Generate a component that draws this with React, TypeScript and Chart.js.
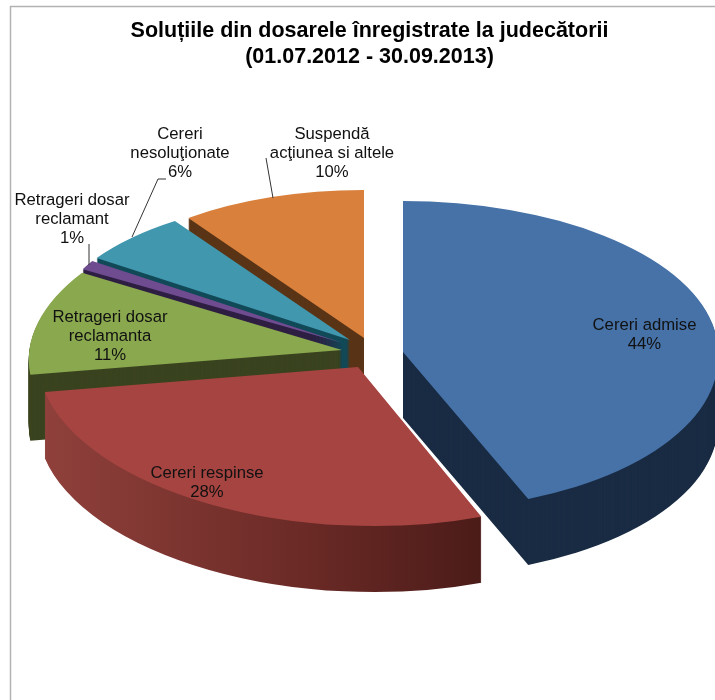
import React, { useEffect, useRef } from "react";
import { Chart, registerables } from "chart.js";

Chart.register(...registerables);

const categories = [
  "Cereri admise",
  "Cereri respinse",
  "Retrageri dosar reclamanta",
  "Retrageri dosar reclamant",
  "Cereri nesoluționate",
  "Suspendă acțiunea si altele",
];
const shares = [44, 28, 11, 1, 6, 10];
const titleLines = [
  "Soluțiile din dosarele înregistrate la judecătorii",
  "(01.07.2012 - 30.09.2013)",
];
const labelLines = [
  ["Cereri admise", "44%"],
  ["Cereri respinse", "28%"],
  ["Retrageri dosar", "reclamanta", "11%"],
  ["Retrageri dosar", "reclamant", "1%"],
  ["Cereri", "nesoluţionate", "6%"],
  ["Suspendă", "acţiunea si altele", "10%"],
];

// styling / projection
const topColors = ["#4672a8", "#a64441", "#8aa84e", "#6f4b90", "#4197ae", "#d8803c"];
const wallColors = ["#1a2c44", "#6b2a26", "#3a431f", "#2e1f43", "#124a58", "#5a3416"];
const paintOrder = [5, 4, 3, 2, 1, 0];
const DEPTH = 66;
const sliceOriginX = [403, 358, 342, 343, 350, 364];
const sliceOriginY = [352, 367, 350, 343, 340, 338];
// [a, b, c, d] projection of the unit circle for each slice
const sliceMatrix = [
  [315, 0, 0, 151],
  [320, 5, 6, 159],
  [312, 4, -28, 153],
  [297, 0, 0, 153],
  [302, 7, -3, 142],
  [299, 0.5, 0, 148],
];
const lowerMatrixFirst = [315, 0, 10, 158];
const labelX = [644.5, 207, 110, 72, 180, 332];
const labelY = [325, 473, 317, 200, 134, 134];
const LINE_H = 19;
const leaders = [
  [[266, 158], [273, 198]],
  [[166, 179], [158, 179], [132, 237]],
  [[89, 244], [89, 265]],
];

const FONT = '"Liberation Sans", Arial, sans-serif';

const pie3d = {
  id: "pie3d",
  beforeDatasetsDraw(chart: any) {
    const ctx: CanvasRenderingContext2D = chart.ctx;
    const arcs = chart.getDatasetMeta(0).data;

    // chart frame
    ctx.save();
    ctx.strokeStyle = "#b2b2b2";
    ctx.lineWidth = 1.5;
    ctx.beginPath();
    ctx.moveTo(10.5, 700);
    ctx.lineTo(10.5, 6.5);
    ctx.lineTo(715, 6.5);
    ctx.stroke();
    ctx.restore();

    const paint = (el: any, i: number, dy: number, fill: any) => {
      const R = el.outerRadius;
      const saved = el.options;
      el.options = { ...saved, backgroundColor: fill, borderWidth: 0 };
      const one = (m: number[]) => {
        ctx.save();
        ctx.transform(m[0] / R, m[1] / R, m[2] / R, m[3] / R, sliceOriginX[i], sliceOriginY[i] + dy);
        ctx.translate(-el.x, -el.y);
        el.draw(ctx);
        ctx.restore();
      };
      if (i === 0) {
        const split = sliceOriginY[i] + dy;
        ctx.save();
        ctx.beginPath();
        ctx.rect(0, 0, 715, split);
        ctx.clip();
        one(sliceMatrix[i]);
        ctx.restore();
        ctx.save();
        ctx.beginPath();
        ctx.rect(0, split, 715, 700);
        ctx.clip();
        one(lowerMatrixFirst);
        ctx.restore();
      } else {
        one(sliceMatrix[i]);
      }
      el.options = saved;
    };

    paintOrder.forEach((i) => {
      const el = arcs[i];
      let wall: any = wallColors[i];
      if (i === 1) {
        const R = el.outerRadius;
        const g = ctx.createLinearGradient(
          el.x + (R * (45 - 358)) / 320, 0,
          el.x + (R * (481 - 358)) / 320, 0
        );
        g.addColorStop(0, "#8f403b");
        g.addColorStop(0.58, "#6b2a26");
        g.addColorStop(1, "#4a1b18");
        wall = g;
      }
      for (let dy = DEPTH; dy >= 1; dy--) paint(el, i, dy, wall);
      paint(el, i, 0, topColors[i]);
    });

    // leader lines
    ctx.save();
    ctx.strokeStyle = "#333333";
    ctx.lineWidth = 1;
    leaders.forEach((pts) => {
      ctx.beginPath();
      pts.forEach((p, k) => (k ? ctx.lineTo(p[0], p[1]) : ctx.moveTo(p[0], p[1])));
      ctx.stroke();
    });
    ctx.restore();

    // data labels
    ctx.save();
    ctx.font = `16.7px ${FONT}`;
    ctx.fillStyle = "#111111";
    ctx.textAlign = "center";
    ctx.textBaseline = "middle";
    labelLines.forEach((lines, i) => {
      lines.forEach((t, k) => ctx.fillText(t, labelX[i], labelY[i] + k * LINE_H));
    });
    ctx.restore();

    return false;
  },
};

export default function App() {
  const ref = useRef<HTMLCanvasElement | null>(null);
  useEffect(() => {
    document.body.style.margin = "0";
    const chart = new Chart(ref.current as HTMLCanvasElement, {
      type: "pie",
      data: {
        labels: categories,
        datasets: [{ data: shares, backgroundColor: topColors, borderWidth: 0 }],
      },
      options: {
        animation: false,
        responsive: false,
        layout: { padding: { left: 24 } },
        plugins: {
          legend: { display: false },
          tooltip: { enabled: false },
          title: {
            display: true,
            text: titleLines,
            color: "#000000",
            font: { family: FONT, size: 21.5, weight: "bold", lineHeight: 1.21 },
            padding: { top: 18, bottom: 10 },
          },
        },
      },
      plugins: [pie3d],
    } as any);
    return () => chart.destroy();
  }, []);
  return (
    <canvas ref={ref} width={715} height={700} style={{ display: "block", width: 715, height: 700 }} />
  );
}
